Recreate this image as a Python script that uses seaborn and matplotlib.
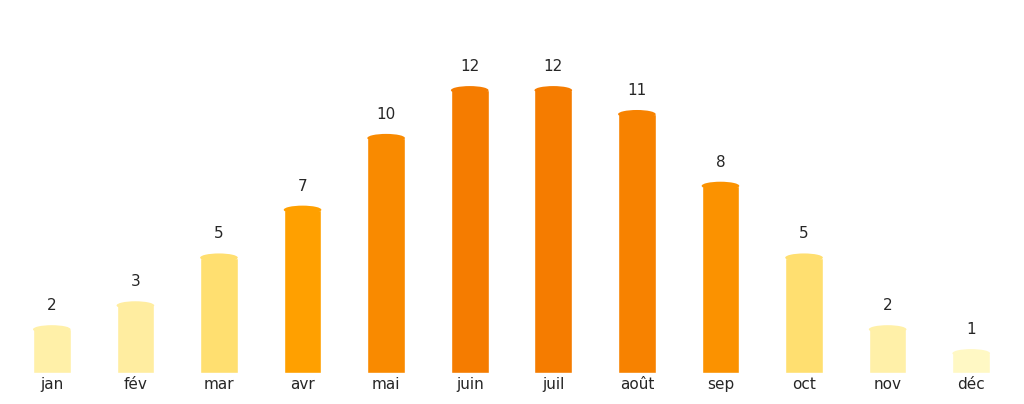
import matplotlib
matplotlib.use("Agg")
import matplotlib.pyplot as plt
import seaborn as sns
import pandas as pd
from matplotlib.patches import Ellipse

months = ["jan","fév","mar","avr","mai","juin","juil","août","sep","oct","nov","déc"]
values = [2,3,5,7,10,12,12,11,8,5,2,1]
colors = ["#FFF0A8","#FFEDA0","#FFDF70","#FFA000","#F98A00","#F57C00","#F57C00","#F78200","#FB9200","#FFDF70","#FFF0A8","#FFF8C4"]

sns.set_style("white")
fig = plt.figure(figsize=(10.24,4.04), dpi=100)
ax = fig.add_axes([10/1024, 31/404, 1003/1024, 373/404])
df = pd.DataFrame({"m": months, "v": values})
sns.barplot(data=df, x="m", y="v", hue="m", palette=colors, legend=False, width=0.45, ax=ax, saturation=1)
ax.set_ylim(0, 15.6)
ax.set_xlim(-0.5, 11.5)
cap = 0.35
for p, v, c in zip(ax.patches, values, colors):
    x = p.get_x(); w = p.get_width()
    p.set_height(v - cap/2)
    ax.add_patch(Ellipse((x + w/2, v - cap/2), w, cap, color=c, lw=0))
    ax.text(x + w/2, v + 0.5, str(v), ha="center", va="bottom", fontsize=11)
ax.set_xlabel(""); ax.set_ylabel("")
ax.set_yticks([])
ax.tick_params(axis="x", length=0, labelsize=11, pad=3)
sns.despine(ax=ax, left=True, bottom=True)
fig.savefig("out.png", dpi=100)
